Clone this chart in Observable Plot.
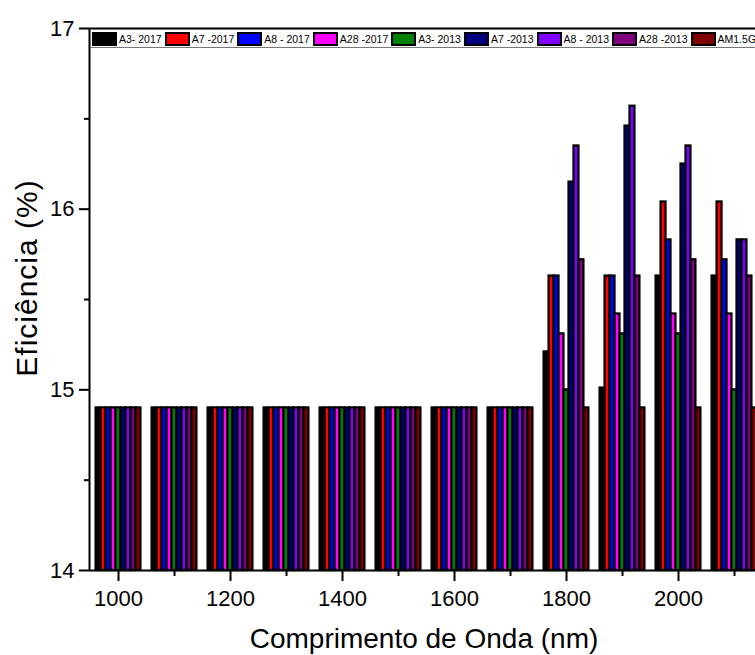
<!DOCTYPE html>
<html>
<head>
<meta charset="utf-8">
<script src="https://cdn.jsdelivr.net/npm/d3@7"></script>
<script src="https://cdn.jsdelivr.net/npm/@observablehq/plot@0.6"></script>
<style>
  body { margin: 0; background: #fff; }
  #wrap { position: relative; width: 755px; height: 655px; overflow: hidden; font-family: "Liberation Sans", Arial, sans-serif; }
  #legend { position: absolute; left: 90px; top: 29px; height: 17px; width: 720px; border: 1px solid #777; background: #fff;
            display: flex; align-items: center; white-space: nowrap; font-size: 10.5px; color: #000; }
  .sw { box-sizing: border-box; width: 25px; height: 14px; border: 2px solid #000; margin-left: 1px; flex: none; }
  .lb { margin-left: 2px; margin-right: 2px; flex: none; }
</style>
</head>
<body>
<div id="wrap"></div>
<script>
// ---- data ----
const wavelengths = [1000, 1100, 1200, 1300, 1400, 1500, 1600, 1700, 1800, 1900, 2000, 2100];
const seriesNames = ["A3- 2017", "A7 -2017", "A8 - 2017", "A28 -2017", "A3- 2013", "A7 -2013", "A8 - 2013", "A28 -2013", "AM1.5G"];
const seriesColors = ["#000000", "#ff0000", "#0000ff", "#ff00ff", "#008000", "#000080", "#8000ff", "#800080", "#800000"];

const A3_2017  = [14.9, 14.9, 14.9, 14.9, 14.9, 14.9, 14.9, 14.9, 15.21, 15.01, 15.63, 15.63];
const A7_2017  = [14.9, 14.9, 14.9, 14.9, 14.9, 14.9, 14.9, 14.9, 15.63, 15.63, 16.04, 16.04];
const A8_2017  = [14.9, 14.9, 14.9, 14.9, 14.9, 14.9, 14.9, 14.9, 15.63, 15.63, 15.83, 15.72];
const A28_2017 = [14.9, 14.9, 14.9, 14.9, 14.9, 14.9, 14.9, 14.9, 15.31, 15.42, 15.42, 15.42];
const A3_2013  = [14.9, 14.9, 14.9, 14.9, 14.9, 14.9, 14.9, 14.9, 15.0, 15.31, 15.31, 15.0];
const A7_2013  = [14.9, 14.9, 14.9, 14.9, 14.9, 14.9, 14.9, 14.9, 16.15, 16.46, 16.25, 15.83];
const A8_2013  = [14.9, 14.9, 14.9, 14.9, 14.9, 14.9, 14.9, 14.9, 16.35, 16.57, 16.35, 15.83];
const A28_2013 = [14.9, 14.9, 14.9, 14.9, 14.9, 14.9, 14.9, 14.9, 15.72, 15.63, 15.72, 15.63];
const AM15G    = [14.9, 14.9, 14.9, 14.9, 14.9, 14.9, 14.9, 14.9, 14.9, 14.9, 14.9, 14.9];

const yTicks = [14, 15, 16, 17];
const yMinorTicks = [14.5, 15.5, 16.5];
const xTicks = [1000, 1200, 1400, 1600, 1800, 2000];
const xMinorTicks = [1100, 1300, 1500, 1700, 1900, 2100];

// ---- build table ----
const seriesValues = [A3_2017, A7_2017, A8_2017, A28_2017, A3_2013, A7_2013, A8_2013, A28_2013, AM15G];
const rows = seriesNames.flatMap((name, j) =>
  wavelengths.map((w, i) => ({ name, j, w, v: seriesValues[j][i] })));

const nSeries = seriesNames.length;
const BAR = 8.9; // bar width in nm
const X0 = 948.2, X1 = 2137.5;
const FONT = '"Liberation Sans", Arial, sans-serif';

const chart = Plot.plot({
  width: 755, height: 655,
  marginLeft: 89, marginRight: 0, marginTop: 28, marginBottom: 85,
  x: { domain: [X0, X1] },
  y: { domain: [14, 17] },
  color: { domain: seriesNames, range: seriesColors },
  style: { fontFamily: FONT, background: "white", color: "black", overflow: "hidden" },
  marks: [
    Plot.rect(rows, {
      x1: d => d.w + (d.j - nSeries / 2) * BAR,
      x2: d => d.w + (d.j + 1 - nSeries / 2) * BAR,
      y1: 14, y2: "v",
      fill: "name", stroke: "black", strokeWidth: 2.2
    }),
    Plot.ruleY([17], { strokeWidth: 2 }),
    Plot.ruleY([14], { strokeWidth: 2 }),
    Plot.ruleX([X0], { strokeWidth: 2 }),
    Plot.axisY(yTicks, { tickSize: 10, tickPadding: 5, fontSize: 22, strokeWidth: 2, tickFormat: "d", label: null }),
    Plot.axisY(yMinorTicks, { tickSize: 5, strokeWidth: 2, fill: "none", label: null }),
    Plot.axisX(xTicks, { tickSize: 11, tickPadding: 9, fontSize: 22, strokeWidth: 2, tickFormat: "d", label: null }),
    Plot.axisX(xMinorTicks, { tickSize: 6, strokeWidth: 2, fill: "none", label: null })
  ]
});

const svg = d3.select(chart);
svg.append("text")
  .attr("x", 424).attr("y", 648)
  .attr("text-anchor", "middle")
  .style("font-family", FONT).style("font-size", "28px")
  .text("Comprimento de Onda (nm)");
svg.append("text")
  .attr("transform", "translate(37,278) rotate(-90)")
  .attr("text-anchor", "middle")
  .style("font-family", FONT).style("font-size", "30px").style("letter-spacing", "1px")
  .text("Eficiência (%)");

const wrap = document.getElementById("wrap");
wrap.appendChild(chart);

// legend (single boxed row at the top of the frame)
const legend = document.createElement("div");
legend.id = "legend";
seriesNames.forEach((name, j) => {
  const sw = document.createElement("span");
  sw.className = "sw";
  sw.style.background = seriesColors[j];
  const lb = document.createElement("span");
  lb.className = "lb";
  lb.textContent = name;
  legend.appendChild(sw);
  legend.appendChild(lb);
});
wrap.appendChild(legend);
</script>
</body>
</html>
